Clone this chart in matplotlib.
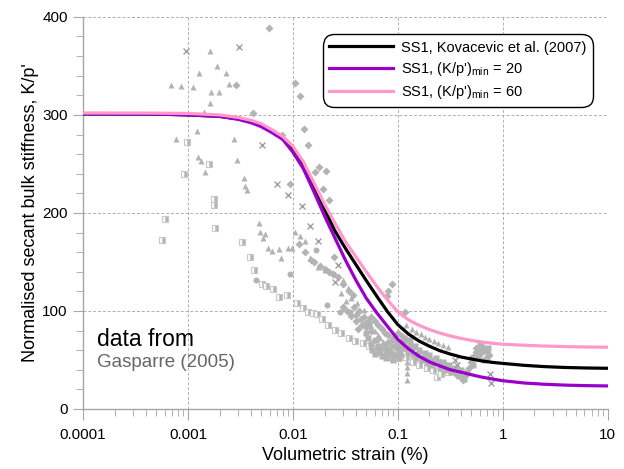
import matplotlib
matplotlib.use("Agg")
import matplotlib.pyplot as plt
from matplotlib.ticker import LogLocator, MultipleLocator, FixedFormatter, FixedLocator

plt.rcParams['font.family'] = ['Liberation Sans', 'DejaVu Sans']
plt.rcParams['mathtext.fontset'] = 'custom'
plt.rcParams['mathtext.rm'] = 'Liberation Sans'

# SS1 model curves, strain (%) vs K/p'
strain_curve = [0.0001, 0.0005, 0.001, 0.002, 0.003, 0.004, 0.005, 0.0063, 0.008,
                0.01, 0.0126, 0.0158, 0.02, 0.025, 0.0316, 0.04, 0.05, 0.063, 0.08,
                0.1, 0.126, 0.158, 0.2, 0.25, 0.316, 0.4, 0.5, 0.63, 0.8, 1.0,
                1.6, 2.5, 4.0, 6.3, 10.0]
k_kovacevic = [301, 300.8, 300, 298.5, 296, 293, 289, 284, 277,
               265, 249, 228, 204, 182, 164, 147, 131, 115, 99,
               86, 76.5, 69.5, 64, 59.5, 56, 53, 51, 49, 47.5, 46.5,
               44.5, 43.2, 42.3, 41.8, 41.5]
k_min20 = [301, 300.8, 300, 298.5, 295.5, 292, 288, 282, 275,
           262, 245, 222, 197, 175, 152, 131, 113, 98, 84,
           71, 61.5, 54, 48, 44, 40, 37.5, 35, 32.5, 30.5, 28.8,
           26.5, 25.2, 24.3, 23.8, 23.5]
k_min60 = [302, 301.8, 301.5, 300, 297.5, 294.5, 291, 285, 278,
           268, 252, 231, 209, 190, 171, 155, 140, 125, 111,
           99, 91, 85.5, 81, 77.5, 74.5, 72, 70, 68.3, 67, 66,
           65, 64.2, 63.6, 63.2, 63]

# Gasparre (2005) data
tri_x = [0.00164, 0.00188, 0.00128, 0.0023, 0.00069, 0.00085, 0.00112, 0.00247,
         0.00167, 0.00199, 0.00162, 0.00142, 0.00123, 0.00077, 0.00276, 0.00125,
         0.00132, 0.00145, 0.00291, 0.00344, 0.00352, 0.00367,
         0.00478, 0.00485, 0.00541, 0.00522, 0.00574, 0.00627, 0.00741, 0.00764, 0.00902,
         0.0105, 0.0116, 0.0129, 0.0097, 0.0145, 0.0174, 0.0202, 0.0251, 0.030,
         0.0335, 0.036, 0.0405, 0.048, 0.029, 0.0324,
         0.052, 0.056, 0.06, 0.064, 0.068, 0.072, 0.078, 0.085, 0.09, 0.095, 0.1,
         0.058, 0.066, 0.075, 0.082, 0.088, 0.11, 0.115,
         0.121, 0.121, 0.122, 0.123,
         0.12, 0.135, 0.15, 0.165, 0.18, 0.2, 0.22, 0.24, 0.27, 0.3]
tri_y = [365, 350, 343, 343, 331, 329, 328, 332,
         323, 323, 312, 303, 284, 275, 275, 257,
         253, 242, 254, 236, 227, 223,
         190, 181, 178, 174, 164, 161, 163, 154, 164,
         181, 176, 171, 164, 154, 145, 142, 138, 132,
         123, 113, 108, 101, 118, 110,
         92, 85, 80, 75, 72, 68, 64, 62, 58, 66, 60,
         70, 62, 58, 55, 52, 56, 62,
         48, 43, 37, 30,
         86, 82, 79, 76, 73, 71, 69, 67, 65, 63]

dia_x = [0.00596, 0.01045, 0.0118, 0.00419, 0.0078, 0.01273, 0.014, 0.0178,
         0.0162, 0.0205, 0.0192, 0.022, 0.00936, 0.00287, 0.0248, 0.0871,
         0.0806, 0.079, 0.117,
         0.04, 0.045, 0.05, 0.055, 0.06, 0.065, 0.07, 0.075, 0.08, 0.09,
         0.1, 0.11, 0.12, 0.13, 0.14, 0.16, 0.18, 0.2, 0.22, 0.25, 0.28, 0.3,
         0.33, 0.36, 0.4, 0.42, 0.45, 0.48, 0.5, 0.53, 0.56, 0.6, 0.65, 0.7,
         0.74, 0.5, 0.55, 0.62,
         0.0115, 0.013, 0.015, 0.016, 0.018, 0.02, 0.022, 0.024, 0.027, 0.03,
         0.034, 0.037,
         0.03, 0.033, 0.036, 0.038, 0.04, 0.043, 0.046, 0.048, 0.05, 0.053,
         0.042, 0.055]
dia_y = [389, 333, 319, 302, 279, 286, 269, 247,
         242, 243, 224, 213, 230, 330, 155, 128,
         120, 115, 99,
         96, 92, 88, 94, 90, 86, 82, 78, 75, 72,
         78, 74, 70, 66, 62, 58, 55, 52, 50, 48, 46, 44,
         40, 36, 33, 30, 35, 42, 48, 54, 58, 60, 61, 58,
         55, 52, 62, 57,
         168, 160, 152, 150, 146, 143, 140, 138, 135, 128,
         120, 116,
         104, 100, 95, 104, 90, 100, 86, 94, 84, 88,
         82, 80]

# dense cloud of points at larger strains
cloud_x = [0.05, 0.052, 0.055, 0.057, 0.06, 0.062, 0.065, 0.067, 0.07, 0.072,
           0.075, 0.077, 0.08, 0.082, 0.085, 0.088, 0.09, 0.092, 0.095, 0.098,
           0.1, 0.102, 0.105, 0.108,
           0.11, 0.115, 0.12, 0.125, 0.13, 0.14, 0.145, 0.15, 0.16, 0.17,
           0.18, 0.19, 0.2, 0.21, 0.23, 0.25, 0.27, 0.29, 0.31, 0.33,
           0.35, 0.38, 0.4, 0.43, 0.46, 0.52, 0.58, 0.6, 0.64, 0.68,
           0.72, 0.7, 0.66, 0.58]
cloud_y = [78, 72, 66, 60, 56, 70, 64, 58, 54, 62,
           66, 52, 60, 68, 56, 64, 50, 70, 55, 62,
           68, 52, 58, 64,
           66, 72, 62, 58, 70, 55, 64, 52, 60, 50,
           57, 47, 55, 45, 52, 42, 48, 40, 45, 38,
           42, 34, 40, 31, 38, 45, 52, 65, 63, 60,
           62, 52, 50, 58]

sq_x = [0.00098, 0.00158, 0.00092, 0.00178, 0.00178, 0.0006, 0.00057, 0.00181,
        0.00324, 0.00389, 0.00425, 0.00503, 0.00559, 0.0064, 0.00736, 0.0087,
        0.01085, 0.0125, 0.014, 0.0155, 0.017, 0.019, 0.0215, 0.025, 0.029,
        0.034, 0.0389, 0.0464, 0.053, 0.06, 0.068, 0.075, 0.0871, 0.1, 0.12,
        0.14, 0.16, 0.19, 0.215, 0.234, 0.26, 0.3]
sq_y = [272, 250, 240, 214, 208, 194, 172, 185,
        170, 155, 142, 128, 125, 122, 114, 116,
        108, 103, 99, 98, 97, 92, 86, 81, 77,
        72, 69, 67, 64, 62, 60, 57, 53, 52, 53,
        48, 45, 42, 40, 33, 36, 38]

circ_x = [0.00444, 0.00937, 0.0166, 0.0212, 0.028, 0.0349]
circ_y = [132, 138, 162, 106, 99, 99]

cross_x = [0.00096, 0.00306, 0.00503, 0.00704, 0.0089, 0.0121, 0.0145, 0.0174,
           0.027, 0.0251, 0.75, 0.77, 0.35, 0.37]
cross_y = [365, 369, 269, 229, 218, 207, 187, 171,
           147, 130, 36, 26, 50, 45]

data_grey = '#b3b3b3'
axis_grey = '#a6a6a6'

fig = plt.figure(figsize=(6.24, 4.69), dpi=100)
ax = fig.add_axes([0.133, 0.128, 0.841, 0.836])

ax.plot(sq_x, sq_y, 's', ms=4.5, color=data_grey, fillstyle='right',
        markerfacecoloralt='white', mec='#c8c8c8', mew=0.8, zorder=2)
ax.plot(tri_x, tri_y, '^', ms=4.8, color=data_grey, mec='none', zorder=2)
ax.plot(dia_x, dia_y, 'D', ms=4.3, color=data_grey, mec='none', zorder=2)
ax.plot(cloud_x, cloud_y, 's', ms=5, color=data_grey, mec='none', zorder=2)
ax.plot(circ_x, circ_y, 'o', ms=4.3, color=data_grey, mec='none', zorder=2)
ax.plot(cross_x, cross_y, 'x', ms=5, color='#a0a0a0', mew=1.0, zorder=2)

ax.plot(strain_curve, k_kovacevic, color='black', lw=2.3, zorder=4,
        label='SS1, Kovacevic et al. (2007)')
ax.plot(strain_curve, k_min20, color='#9900cc', lw=2.3, zorder=4,
        label="SS1, (K/p')$_{\\mathrm{min}}$ = 20")
ax.plot(strain_curve, k_min60, color='#ff99cc', lw=2.3, zorder=5,
        label="SS1, (K/p')$_{\\mathrm{min}}$ = 60")

ax.set_xscale('log')
ax.set_xlim(0.0001, 10)
ax.set_ylim(0, 400)

xt = [0.0001, 0.001, 0.01, 0.1, 1, 10]
ax.xaxis.set_major_locator(FixedLocator(xt))
ax.xaxis.set_major_formatter(FixedFormatter(['0.0001', '0.001', '0.01', '0.1', '1', '10']))
ax.xaxis.set_minor_locator(LogLocator(base=10, subs=range(2, 10)))
ax.yaxis.set_major_locator(MultipleLocator(100))
ax.yaxis.set_minor_locator(MultipleLocator(20))

ax.grid(True, which='major', color='#b0b0b0', ls=(0, (3, 2)), lw=0.7, zorder=0)
for s in ['top', 'right']:
    ax.spines[s].set_visible(False)
for s in ['left', 'bottom']:
    ax.spines[s].set_color(axis_grey)
    ax.spines[s].set_linewidth(1.0)

ax.tick_params(which='major', direction='out', length=8, color=axis_grey,
               labelsize=11, pad=6)
ax.tick_params(which='minor', direction='out', length=5, color=axis_grey)
ax.tick_params(axis='y', which='major', length=7, pad=4)

ax.set_xlabel('Volumetric strain (%)', fontsize=13, labelpad=3)
ax.set_ylabel("Normalised secant bulk stiffness, K/p'", fontsize=13, labelpad=2)

ax.text(0.027, 0.16, 'data from', transform=ax.transAxes, fontsize=16.5, color='black')
ax.text(0.027, 0.108, 'Gasparre (2005)', transform=ax.transAxes, fontsize=13.5, color='#666666')

leg = ax.legend(loc='upper right', bbox_to_anchor=(0.985, 0.975), fontsize=10.5,
                handlelength=4.4, handletextpad=0.5, borderpad=0.45,
                labelspacing=0.35, fancybox=True, framealpha=1)
leg.get_frame().set_edgecolor('black')
leg.get_frame().set_linewidth(1.0)
leg.get_frame().set_boxstyle('round', pad=0, rounding_size=0.8)

fig.savefig('out.png', dpi=100)
